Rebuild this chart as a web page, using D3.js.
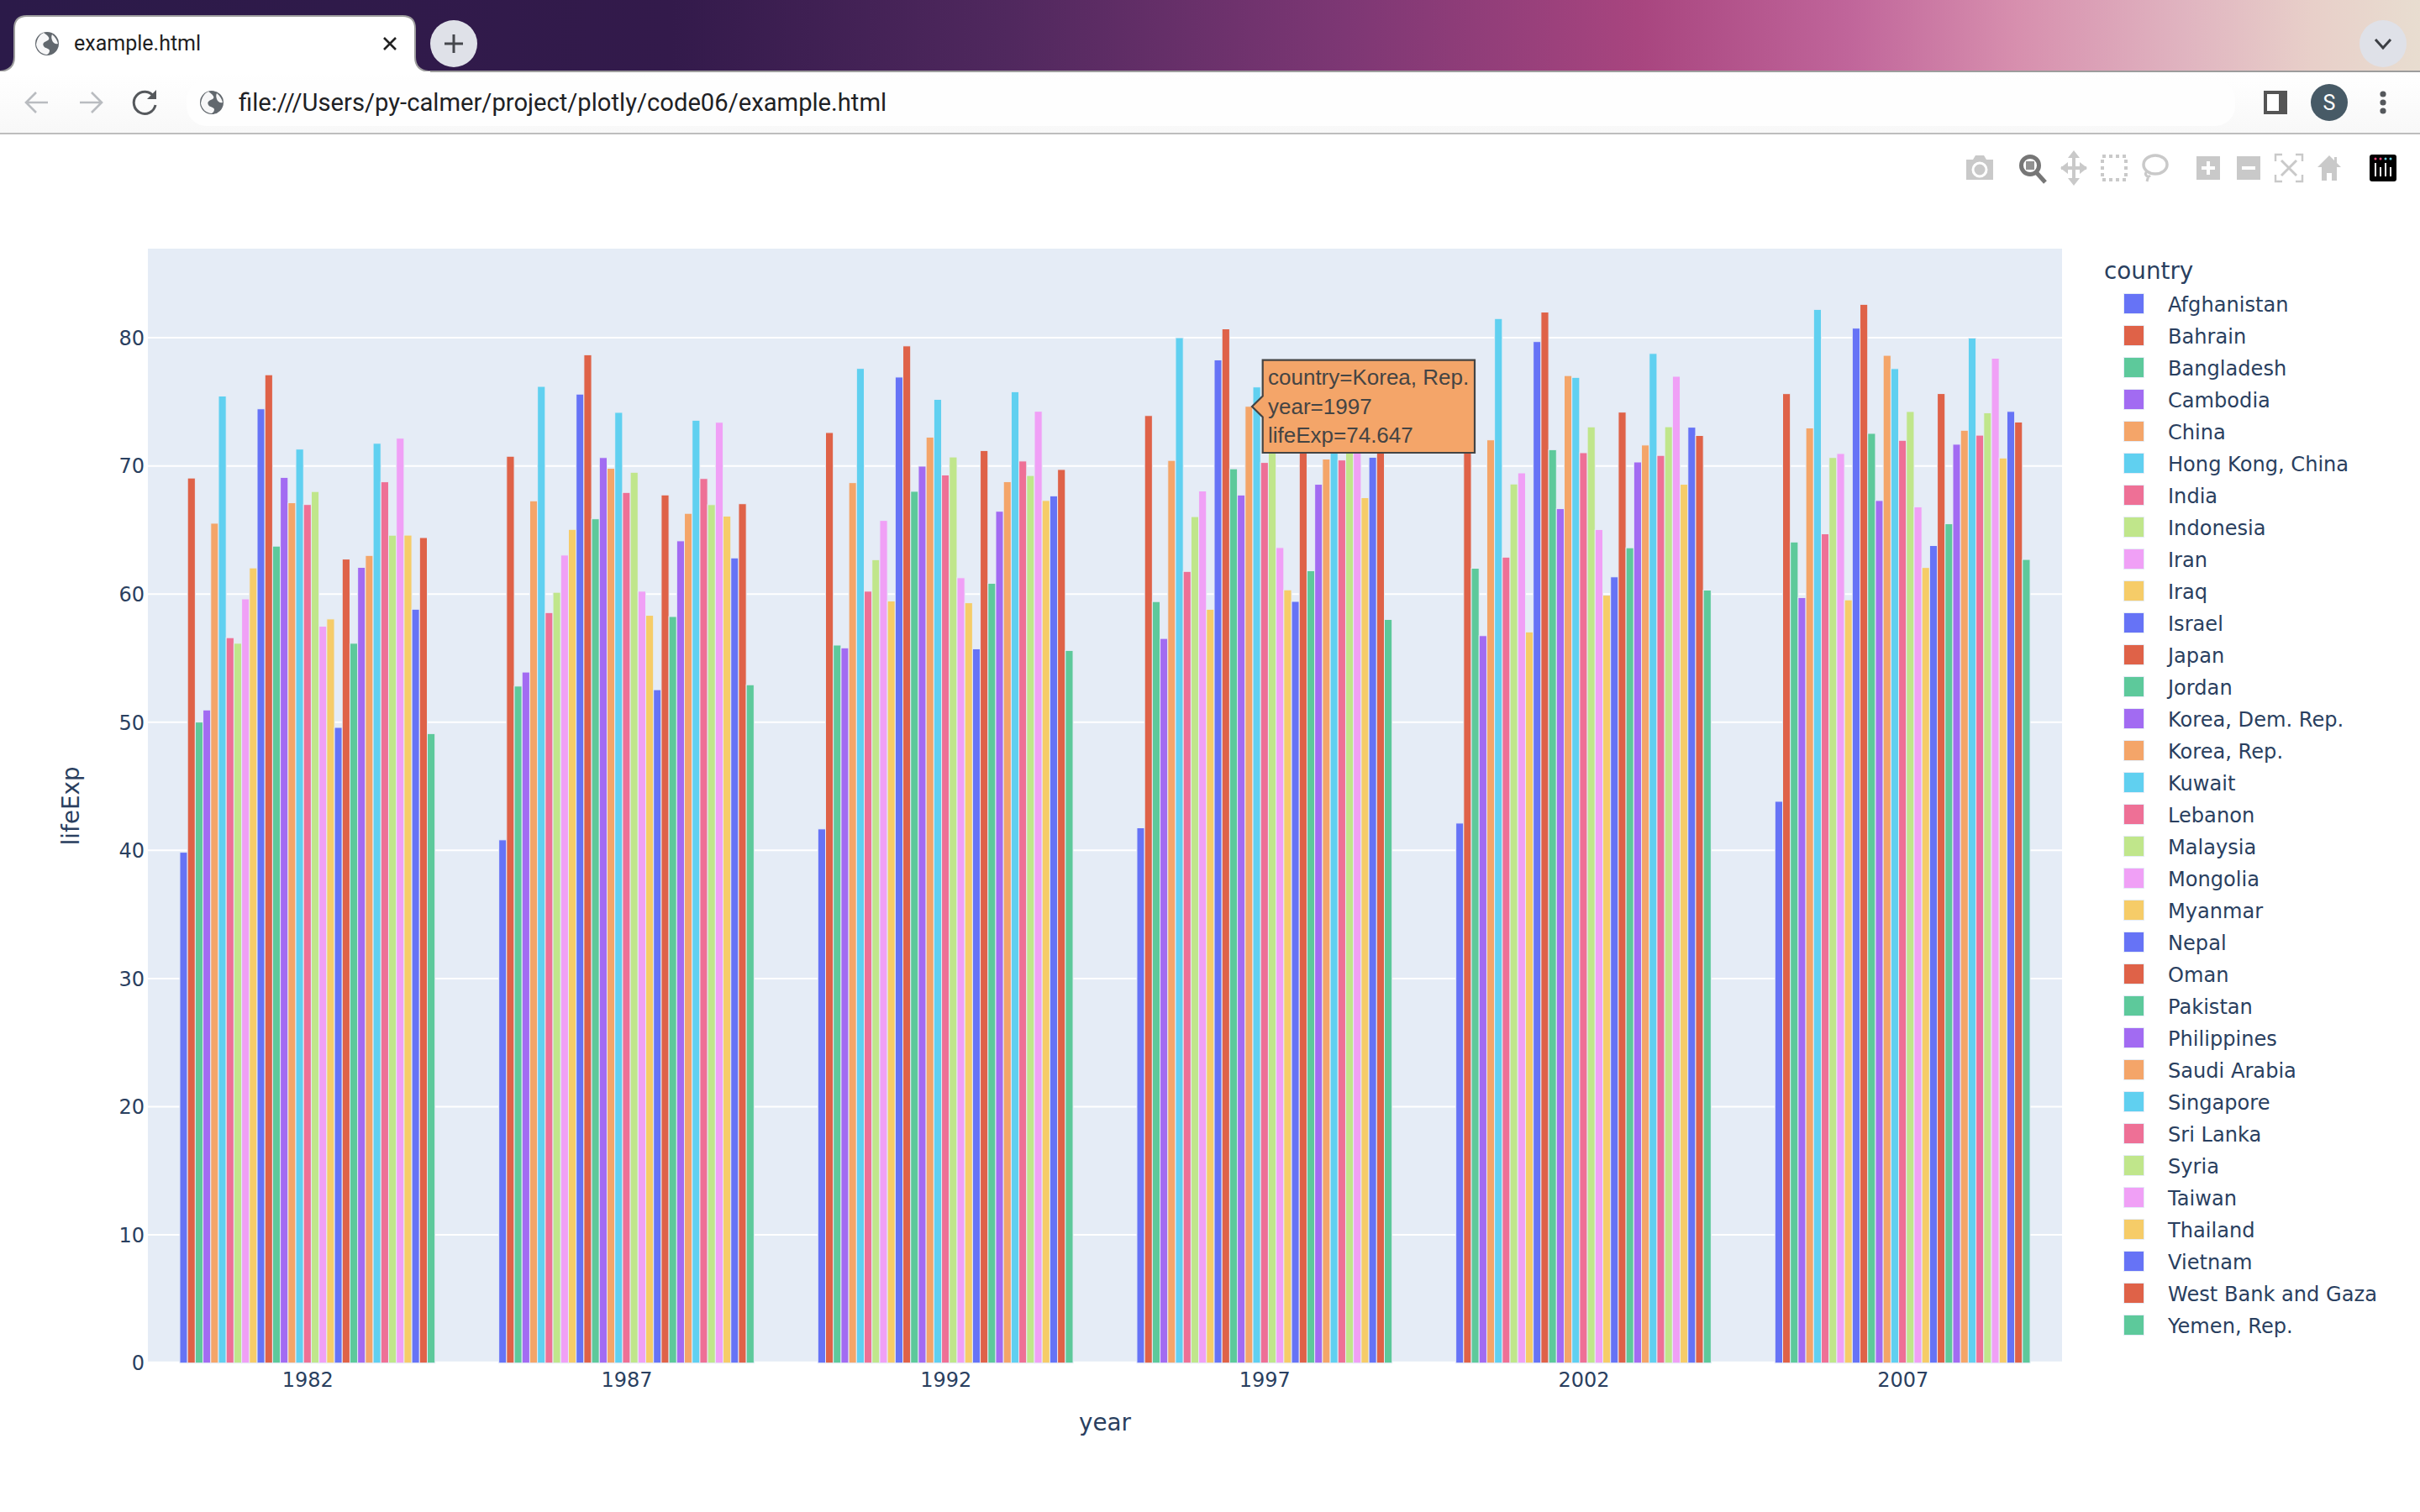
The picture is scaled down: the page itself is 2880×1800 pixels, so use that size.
<!DOCTYPE html>
<html>
<head>
<meta charset="utf-8">
<title>example.html</title>
<script src="https://cdn.jsdelivr.net/npm/d3@7"></script>
<style>
html,body{margin:0;padding:0;background:#fff;overflow:hidden}
svg{display:block}
text{font-family:"DejaVu Sans",sans-serif}
.chrome{font-family:Roboto,sans-serif}
</style>
</head>
<body>
<svg id="page" width="2880" height="1800" viewBox="0 0 2880 1800"></svg>
<script>
// ---------- data ----------
const years = [1982, 1987, 1992, 1997, 2002, 2007];
const countries = ["Afghanistan","Bahrain","Bangladesh","Cambodia","China","Hong Kong, China","India","Indonesia","Iran","Iraq","Israel","Japan","Jordan","Korea, Dem. Rep.","Korea, Rep.","Kuwait","Lebanon","Malaysia","Mongolia","Myanmar","Nepal","Oman","Pakistan","Philippines","Saudi Arabia","Singapore","Sri Lanka","Syria","Taiwan","Thailand","Vietnam","West Bank and Gaza","Yemen, Rep."];
const yTicks = [0,10,20,30,40,50,60,70,80];
const palette = ["#6673F6","#DF6248","#5DC99B","#A26BF2","#F4A569","#60D0F0","#EE7096","#C0E68B","#F0A0F6","#F6CC68"];

const afghanistan = [39.854,40.822,41.674,41.763,42.129,43.828];
const bahrain = [69.052,70.75,72.601,73.925,74.795,75.635];
const bangladesh = [50.009,52.819,56.018,59.412,62.013,64.062];
const cambodia = [50.957,53.914,55.803,56.534,56.752,59.723];
const china = [65.525,67.274,68.69,70.426,72.028,72.961];
const hongKong = [75.45,76.2,77.601,80,81.495,82.208];
const india = [56.596,58.553,60.223,61.765,62.879,64.698];
const indonesia = [56.159,60.137,62.681,66.041,68.588,70.65];
const iran = [59.62,63.04,65.742,68.042,69.451,70.964];
const iraq = [62.038,65.044,59.461,58.811,57.046,59.545];
const israel = [74.45,75.6,76.93,78.269,79.696,80.745];
const japan = [77.11,78.67,79.36,80.69,82,82.603];
const jordan = [63.739,65.869,68.015,69.772,71.263,72.535];
const koreaDem = [69.1,70.647,69.978,67.727,66.662,67.297];
const koreaRep = [67.123,69.81,72.244,74.647,77.045,78.623];
const kuwait = [71.309,74.174,75.19,76.156,76.904,77.588];
const lebanon = [66.983,67.926,69.292,70.265,71.028,71.993];
const malaysia = [68,69.5,70.693,71.938,73.044,74.241];
const mongolia = [57.489,60.222,61.271,63.625,65.033,66.803];
const myanmar = [58.056,58.339,59.32,60.328,59.908,62.069];
const nepal = [49.594,52.537,55.727,59.426,61.34,63.785];
const oman = [62.728,67.734,71.197,72.499,74.193,75.64];
const pakistan = [56.158,58.245,60.838,61.818,63.61,65.483];
const philippines = [62.082,64.151,66.458,68.564,70.303,71.688];
const saudiArabia = [63.012,66.295,68.768,70.533,71.626,72.777];
const singapore = [71.76,73.56,75.788,77.158,78.77,79.972];
const sriLanka = [68.757,69.011,70.379,70.457,70.815,72.396];
const syria = [64.59,66.974,69.249,71.527,73.053,74.143];
const taiwan = [72.16,73.4,74.26,75.25,76.99,78.4];
const thailand = [64.597,66.084,67.298,67.521,68.564,70.616];
const vietnam = [58.816,62.82,67.662,70.672,73.017,74.249];
const westBank = [64.406,67.046,69.718,71.096,72.37,73.422];
const yemen = [49.113,52.922,55.599,58.02,60.308,62.698];
const seriesValues = [afghanistan,bahrain,bangladesh,cambodia,china,hongKong,india,indonesia,iran,iraq,israel,japan,jordan,koreaDem,koreaRep,kuwait,lebanon,malaysia,mongolia,myanmar,nepal,oman,pakistan,philippines,saudiArabia,singapore,sriLanka,syria,taiwan,thailand,vietnam,westBank,yemen];

// ---------- layout ----------
const plot = {left:176,right:2454,top:296,bottom:1622.7};
const ink = "#2a3f5f";
const svg = d3.select("#page");

// ---------- browser frame ----------
const defs = svg.append("defs");
const grad = defs.append("linearGradient").attr("id","tabbar");
[[0,"#2b1a49"],[800,"#331a4b"],[1200,"#50285e"],[1600,"#7d3774"],[1950,"#a8457f"],[2200,"#c0659a"],[2400,"#d78fae"],[2600,"#e0b4c0"],[2750,"#e8cfc9"],[2880,"#e8ddd0"]]
  .forEach(([o,c])=>grad.append("stop").attr("offset",o/2880).attr("stop-color",c));
const tg = defs.append("linearGradient").attr("id","toolbar").attr("x2",0).attr("y2",1);
tg.append("stop").attr("offset",0).attr("stop-color","#ffffff");
tg.append("stop").attr("offset",1).attr("stop-color","#f8f8f8");

const ui = svg.append("g").attr("class","browser");
ui.append("rect").attr("width",2880).attr("height",85).attr("fill","url(#tabbar)");
ui.append("rect").attr("y",84).attr("width",2880).attr("height",2).attr("fill","#9d9d9d");
ui.append("rect").attr("y",86).attr("width",2880).attr("height",72).attr("fill","url(#toolbar)");
ui.append("rect").attr("y",158).attr("width",2880).attr("height",2).attr("fill","#bdbdbd");
ui.append("rect").attr("x",222).attr("y",95).attr("width",2438).attr("height",55).attr("rx",24).attr("fill","#fefefe");
ui.append("path").attr("d","M0,85 C12,84 17,78 17,68 V34 Q17,19 32,19 H479 Q494,19 494,34 V68 C494,78 499,84 510,85 V87 H0 Z")
  .attr("fill","#fff").attr("stroke","#9d9d9d").attr("stroke-width",2);
ui.append("rect").attr("x",0).attr("y",85).attr("width",512).attr("height",4).attr("fill","#fff");

function globe(cx,cy){
  const g = ui.append("g").attr("transform",`translate(${cx},${cy})`);
  g.append("circle").attr("r",14).attr("fill","#62686e");
  g.append("path").attr("d","M-4,-13 C2,-9 4,-6 1,-4 C-3,-2 -6,-1 -4,3 C-2,6 2,5 3,8 C3,10 2,12 0,13 C-6,13 -12,8 -13,1 C-12,-6 -9,-11 -4,-13 Z M6,-11 C10,-8 12,-4 13,0 C10,1 7,-1 6,-4 C5,-7 5,-9 6,-11 Z").attr("fill","#fff").attr("opacity",.95);
}
globe(56,52);
globe(252,122);
ui.append("text").attr("class","chrome").attr("x",88).attr("y",60).attr("font-size",25).attr("fill","#1f1f1f").style("font-family","Roboto").text("example.html");
ui.append("path").attr("d","M457,45 L471,59 M471,45 L457,59").attr("stroke","#222").attr("stroke-width",2.6).attr("fill","none");
ui.append("circle").attr("cx",540).attr("cy",52).attr("r",28).attr("fill","#dfe1e8");
ui.append("path").attr("d","M540,41 V63 M529,52 H551").attr("stroke","#45474c").attr("stroke-width",3).attr("fill","none");
ui.append("circle").attr("cx",2836).attr("cy",52).attr("r",28).attr("fill","#dfe1e8");
ui.append("path").attr("d","M2827,47 L2836,57 L2845,47").attr("stroke","#3c3f44").attr("stroke-width",3).attr("fill","none");
ui.append("path").attr("d","M57,122 H31 M43,110 L31,122 L43,134").attr("stroke","#b9bcc0").attr("stroke-width",2.6).attr("fill","none");
ui.append("path").attr("d","M95,122 H121 M109,110 L121,122 L109,134").attr("stroke","#b9bcc0").attr("stroke-width",2.6).attr("fill","none");
ui.append("path").attr("d","M183,115 A13,13 0 1 0 185,125").attr("stroke","#55585c").attr("stroke-width",3).attr("fill","none");
ui.append("path").attr("d","M186,107 V118 H175 Z").attr("fill","#55585c");
ui.append("text").attr("class","chrome").attr("x",284).attr("y",132).attr("font-size",29.2).attr("fill","#202124").style("font-family","Roboto").text("file:///Users/py-calmer/project/plotly/code06/example.html");
ui.append("rect").attr("x",2694).attr("y",108).attr("width",28).attr("height",28).attr("fill","#555");
ui.append("rect").attr("x",2698).attr("y",112).attr("width",14).attr("height",20).attr("fill","#fff");
ui.append("circle").attr("cx",2772).attr("cy",122).attr("r",22).attr("fill","#475a66");
ui.append("text").attr("x",2772).attr("y",131).attr("text-anchor","middle").attr("font-size",25).attr("fill","#fff").style("font-family","Roboto").text("S");
[112,122,132].forEach(y=>ui.append("circle").attr("cx",2836).attr("cy",y).attr("r",3.6).attr("fill","#55585c"));

// ---------- modebar ----------
const mb = svg.append("g").attr("class","modebar");
const idle = "#c9c9c9", active = "#767676";
const icon = (x)=>mb.append("g").attr("transform",`translate(${x},200)`);
let ic = icon(2356);
ic.append("path").attr("d","M-16,-10 H-8 L-5,-15 H5 L8,-10 H16 V14 H-16 Z").attr("fill",idle);
ic.append("circle").attr("cx",0).attr("cy",2).attr("r",8).attr("fill","none").attr("stroke","#fff").attr("stroke-width",3);
ic = icon(2419);
ic.append("path").attr("d","M5,6 L15,17").attr("stroke",active).attr("stroke-width",5);
ic.append("circle").attr("cx",-3).attr("cy",-3).attr("r",10.5).attr("fill","none").attr("stroke",active).attr("stroke-width",5);
ic.append("rect").attr("x",-8).attr("y",-8).attr("width",10).attr("height",10).attr("fill",active).attr("opacity",.8);
ic = icon(2468);
ic.append("path").attr("d","M0,-15 V15 M-15,0 H15").attr("stroke",idle).attr("stroke-width",4);
ic.append("path").attr("d","M0,-21 L7,-12 H-7 Z M0,21 L7,12 H-7 Z M-16,0 L-7,-7 V7 Z M16,0 L7,-7 V7 Z").attr("fill",idle);
ic = icon(2516);
ic.append("rect").attr("x",-14).attr("y",-14).attr("width",28).attr("height",28).attr("fill","none").attr("stroke",idle).attr("stroke-width",4).attr("stroke-dasharray","4 4");
ic = icon(2564);
ic.append("ellipse").attr("cx",1).attr("cy",-4).attr("rx",14).attr("ry",11).attr("fill","none").attr("stroke",idle).attr("stroke-width",3.5);
ic.append("path").attr("d","M-9,4 C-13,8 -8,12 -5,9 M-7,9 L-9,16").attr("fill","none").attr("stroke",idle).attr("stroke-width",3);
ic = icon(2628);
ic.append("rect").attr("x",-14).attr("y",-14).attr("width",28).attr("height",28).attr("fill",idle);
ic.append("path").attr("d","M0,-8 V8 M-8,0 H8").attr("stroke","#fff").attr("stroke-width",4);
ic = icon(2676);
ic.append("rect").attr("x",-14).attr("y",-14).attr("width",28).attr("height",28).attr("fill",idle);
ic.append("path").attr("d","M-8,0 H8").attr("stroke","#fff").attr("stroke-width",4);
ic = icon(2724);
ic.append("path").attr("d","M-16,-8 V-16 H-8 M8,-16 H16 V-8 M16,8 V16 H8 M-8,16 H-16 V8").attr("fill","none").attr("stroke",idle).attr("stroke-width",2.4);
ic.append("path").attr("d","M-9,-9 L9,9 M9,-9 L-9,9").attr("stroke",idle).attr("stroke-width",3);
ic = icon(2772);
ic.append("path").attr("d","M0,-15 L-14,-1 H-9 V15 H-3 V6 H3 V15 H9 V-1 H14 L9,-6 V-13 H6 V-9 Z").attr("fill",idle);
ic = icon(2836);
ic.append("rect").attr("x",-16).attr("y",-16).attr("width",32).attr("height",32).attr("rx",3).attr("fill","#000");
[-9,-3,3,9].forEach((dx,i)=>{
  ic.append("circle").attr("cx",dx).attr("cy",-11).attr("r",1.5).attr("fill",i<2?"#ef4a7e":"#69d0e0");
  ic.append("rect").attr("x",dx-1).attr("y",i%2?-1:-6).attr("width",2).attr("height",i%2?11:16).attr("fill","#fff");
});

// ---------- chart ----------
const x = d3.scaleLinear().domain([1979.5,2009.5]).range([plot.left,plot.right]);
const y = d3.scaleLinear().domain([0,86.95]).range([plot.bottom,plot.top]);
const groupW = (x(1987)-x(1982))*0.8;
const offset = d3.scaleBand().domain(countries).range([-groupW/2,groupW/2]);
const color = d3.scaleOrdinal().domain(countries).range(countries.map((c,i)=>palette[i%palette.length]));

const chart = svg.append("g").attr("class","chart");
chart.append("rect").attr("x",plot.left).attr("y",plot.top).attr("width",plot.right-plot.left).attr("height",plot.bottom-plot.top).attr("fill","#E5ECF6");

const yAxis = chart.append("g").attr("transform",`translate(${plot.left},0.6)`)
  .call(d3.axisLeft(y).tickValues(yTicks).tickSize(0).tickPadding(4).tickFormat(d3.format("d")));
yAxis.select(".domain").remove();
yAxis.selectAll("text").attr("font-size",24).attr("fill",ink).style("font-family","DejaVu Sans");
chart.append("g").selectAll("line").data(yTicks).join("line")
  .attr("x1",plot.left).attr("x2",plot.right).attr("y1",d=>y(d)).attr("y2",d=>y(d))
  .attr("stroke","#fff").attr("stroke-width",d=>d===0?4:2);

const xAxis = chart.append("g").attr("transform",`translate(0,${plot.bottom})`)
  .call(d3.axisBottom(x).tickValues(years).tickSize(0).tickPadding(11).tickFormat(d3.format("d")));
xAxis.select(".domain").remove();
xAxis.selectAll("text").attr("font-size",24).attr("fill",ink).style("font-family","DejaVu Sans");

const rows = countries.flatMap((c,i)=>years.map((yr,j)=>({country:c,year:yr,value:seriesValues[i][j]})));
chart.append("g").selectAll("rect").data(rows).join("rect")
  .attr("x",d=>x(d.year)+offset(d.country))
  .attr("width",offset.bandwidth())
  .attr("y",d=>y(d.value))
  .attr("height",d=>y(0)-y(d.value))
  .attr("fill",d=>color(d.country))
  .attr("stroke","#E5ECF6").attr("stroke-width",1);

chart.append("text").attr("x",(plot.left+plot.right)/2).attr("y",1703).attr("text-anchor","middle").attr("font-size",27.8).attr("fill",ink).text("year");
chart.append("text").attr("transform",`translate(94,${(plot.top+plot.bottom)/2}) rotate(-90)`).attr("text-anchor","middle").attr("font-size",27.8).attr("fill",ink).text("lifeExp");

// ---------- legend ----------
const legend = svg.append("g").attr("class","legend");
legend.append("text").attr("x",2504).attr("y",332).attr("font-size",27.8).attr("fill",ink).text("country");
const item = legend.selectAll("g").data(countries).join("g").attr("transform",(d,i)=>`translate(0,${361.5+i*38})`);
item.append("rect").attr("x",2527.5).attr("y",-12).attr("width",24).attr("height",24).attr("fill",d=>color(d)).attr("stroke","#E5ECF6").attr("stroke-width",1);
item.append("text").attr("x",2580).attr("y",9.5).attr("font-size",24.1).attr("fill",ink).text(d=>d);

// ---------- hover label ----------
const hoverCountry = "Korea, Rep.", hoverYear = 1997;
const hoverValue = seriesValues[countries.indexOf(hoverCountry)][years.indexOf(hoverYear)];
const hover = svg.append("g").attr("class","hover");
hover.append("path").attr("d","M1502.7,428.7 H1755 V539 H1502.7 V496.5 L1490,484 L1502.7,471.5 Z")
  .attr("fill",color(hoverCountry)).attr("stroke","#444").attr("stroke-width",2.2);
[`country=${hoverCountry}`,`year=${hoverYear}`,`lifeExp=${hoverValue}`].forEach((t,i)=>{
  hover.append("text").attr("x",1509).attr("y",458+i*34.5).attr("font-size",26).attr("fill","#444").style("font-family","Liberation Sans").text(t);
});
</script>
</body>
</html>
